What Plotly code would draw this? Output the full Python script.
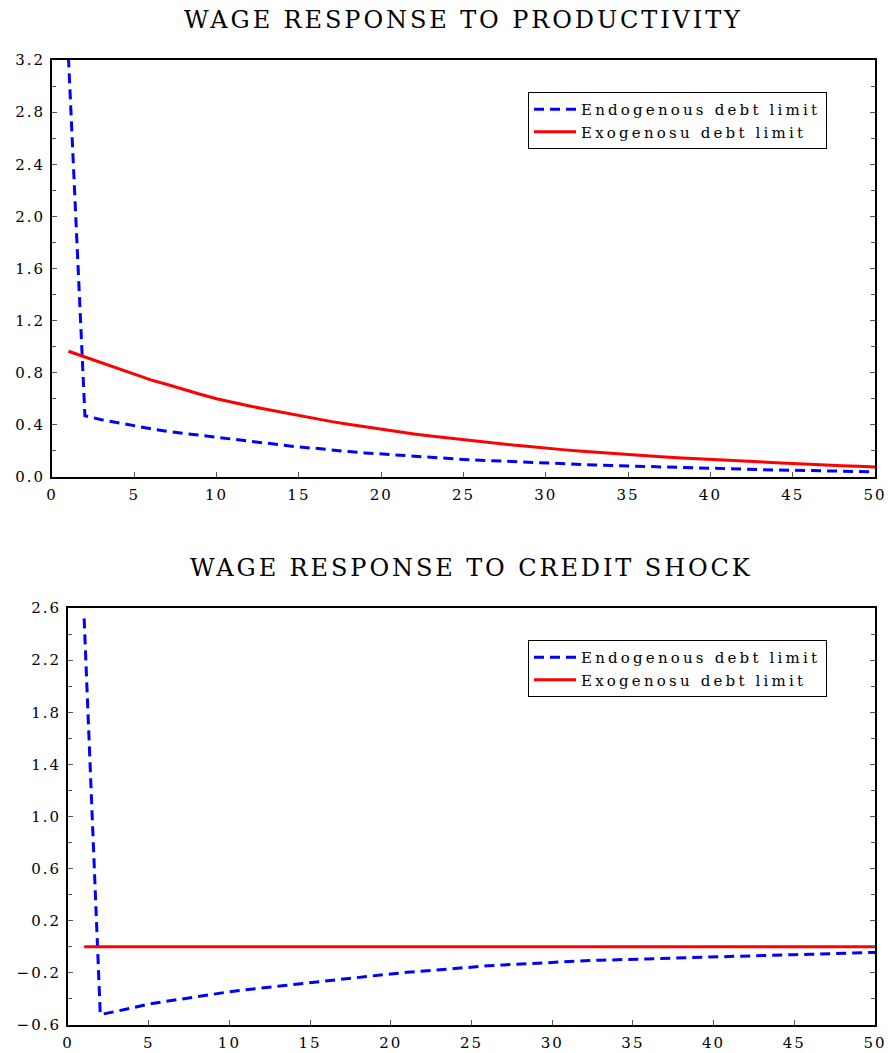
import plotly.graph_objects as go

periods = list(range(1, 51))

prod_endog = [3.22, 0.47, 0.44, 0.415, 0.39, 0.37, 0.35, 0.335, 0.315, 0.30,
              0.285, 0.27, 0.255, 0.243, 0.23, 0.22, 0.205, 0.195, 0.185, 0.176,
              0.167, 0.158, 0.15, 0.142, 0.135, 0.129, 0.123, 0.117, 0.112, 0.107,
              0.102, 0.097, 0.092, 0.088, 0.084, 0.08, 0.076, 0.072, 0.069, 0.066,
              0.063, 0.06, 0.057, 0.054, 0.052, 0.049, 0.047, 0.044, 0.042, 0.04]
prod_exog = [0.965, 0.92, 0.875, 0.83, 0.785, 0.745, 0.71, 0.67, 0.635, 0.60,
             0.57, 0.545, 0.52, 0.495, 0.47, 0.45, 0.425, 0.405, 0.385, 0.365,
             0.35, 0.33, 0.315, 0.30, 0.285, 0.27, 0.26, 0.245, 0.235, 0.22,
             0.21, 0.20, 0.19, 0.18, 0.17, 0.162, 0.155, 0.147, 0.14, 0.133,
             0.127, 0.12, 0.115, 0.11, 0.104, 0.097, 0.092, 0.087, 0.082, 0.077]
credit_endog = [2.52, -0.52, -0.495, -0.465, -0.44, -0.42, -0.40, -0.38, -0.362, -0.345,
                -0.33, -0.316, -0.302, -0.288, -0.275, -0.26, -0.245, -0.232, -0.22, -0.208,
                -0.196, -0.185, -0.174, -0.163, -0.153, -0.146, -0.139, -0.132, -0.125, -0.119,
                -0.113, -0.107, -0.103, -0.099, -0.095, -0.091, -0.087, -0.083, -0.079, -0.075,
                -0.072, -0.069, -0.066, -0.063, -0.06, -0.057, -0.054, -0.05, -0.047, -0.043]
credit_exog = [0.0] * 50

titles = ["WAGE RESPONSE TO PRODUCTIVITY", "WAGE RESPONSE TO CREDIT SHOCK"]
series_names = ["Endogenous debt limit", "Exogenosu debt limit"]

x_tickvals = [0, 5, 10, 15, 20, 25, 30, 35, 40, 45, 50]
x_ticktext = ["0", "5", "10", "15", "20", "25", "30", "35", "40", "45", "50"]
top_y_tickvals = [0.0, 0.4, 0.8, 1.2, 1.6, 2.0, 2.4, 2.8, 3.2]
top_y_ticktext = ["0.0", "0.4", "0.8", "1.2", "1.6", "2.0", "2.4", "2.8", "3.2"]
bot_y_tickvals = [-0.6, -0.2, 0.2, 0.6, 1.0, 1.4, 1.8, 2.2, 2.6]
bot_y_ticktext = ["\u22120.6", "\u22120.2", "0.2", "0.6", "1.0", "1.4", "1.8", "2.2", "2.6"]

FONT = "DejaVu Serif"
W, H = 891, 1053


def spaced(s, px):
    return f'<span style="letter-spacing:{px}px">{s}</span>'


fig = go.Figure()
blue = dict(color="#0000ff", width=3, dash="10px,6px")
red = dict(color="#ff0000", width=3)

LSP = 3.2
fig.add_trace(go.Scatter(x=periods, y=prod_endog, mode="lines", line=blue,
                         name=spaced(series_names[0], LSP), xaxis="x", yaxis="y", legend="legend"))
fig.add_trace(go.Scatter(x=periods, y=prod_exog, mode="lines", line=red,
                         name=spaced(series_names[1], LSP), xaxis="x", yaxis="y", legend="legend"))
fig.add_trace(go.Scatter(x=periods, y=credit_endog, mode="lines", line=blue,
                         name=spaced(series_names[0], LSP), xaxis="x2", yaxis="y2", legend="legend2"))
fig.add_trace(go.Scatter(x=periods, y=credit_exog, mode="lines", line=red,
                         name=spaced(series_names[1], LSP), xaxis="x2", yaxis="y2", legend="legend2"))

tickfont = dict(family=FONT, size=15, color="black")


def xax(domain, anchor):
    return dict(domain=domain, anchor=anchor, range=[0, 50],
                tickmode="array", tickvals=x_tickvals,
                ticktext=[spaced(t, 2) for t in x_ticktext],
                ticks="inside", ticklen=5, tickcolor="#555", tickwidth=1,
                ticklabelstandoff=3,
                showline=True, linecolor="black", linewidth=2, mirror=True,
                showgrid=False, zeroline=False, tickfont=tickfont, automargin=False)


def yax(domain, anchor, rng, vals, texts):
    return dict(domain=domain, anchor=anchor, range=rng,
                tickmode="array", tickvals=vals,
                ticktext=[spaced(t, 2) for t in texts],
                ticks="inside", ticklen=5, tickcolor="#555", tickwidth=1,
                ticklabelstandoff=2,
                minor=dict(dtick=0.2, tick0=rng[0], ticks="inside", ticklen=4,
                           tickcolor="#555", tickwidth=1),
                showline=True, linecolor="black", linewidth=2, mirror="ticks",
                showgrid=False, zeroline=False, tickfont=tickfont, automargin=False)


top_x = [52 / W, 875 / W]
bot_x = [68 / W, 875 / W]
top_y = [1 - 477 / H, 1 - 60 / H]
bot_y = [1 - 1025 / H, 1 - 608 / H]

legfont = dict(family=FONT, size=15, color="black")
leg = dict(font=legfont, bordercolor="black", borderwidth=1, bgcolor="white",
           xanchor="left", yanchor="top", tracegroupgap=0, itemwidth=42)

fig.update_layout(
    width=W, height=H,
    margin=dict(l=0, r=0, t=0, b=0, autoexpand=False),
    paper_bgcolor="white", plot_bgcolor="white",
    xaxis=xax(top_x, "y"),
    yaxis=yax(top_y, "x", [0, 3.2], top_y_tickvals, top_y_ticktext),
    xaxis2=xax(bot_x, "y2"),
    yaxis2=yax(bot_y, "x2", [-0.6, 2.6], bot_y_tickvals, bot_y_ticktext),
    legend=dict(leg, x=528 / W, y=1 - 92 / H),
    legend2=dict(leg, x=528 / W, y=1 - 640 / H),
    showlegend=True,
)

fig.add_annotation(text=spaced(titles[0], 2.9), xref="paper", yref="paper",
                   x=(top_x[0] + top_x[1]) / 2, y=1 - 20 / H,
                   xanchor="center", yanchor="middle", showarrow=False,
                   font=dict(family=FONT, size=24, color="black"))
fig.add_annotation(text=spaced(titles[1], 2.9), xref="paper", yref="paper",
                   x=(bot_x[0] + bot_x[1]) / 2, y=1 - 568 / H,
                   xanchor="center", yanchor="middle", showarrow=False,
                   font=dict(family=FONT, size=24, color="black"))

fig.write_html("out.html", config={"displayModeBar": False},
               post_script="document.body.style.margin='0';document.body.style.padding='0';")
